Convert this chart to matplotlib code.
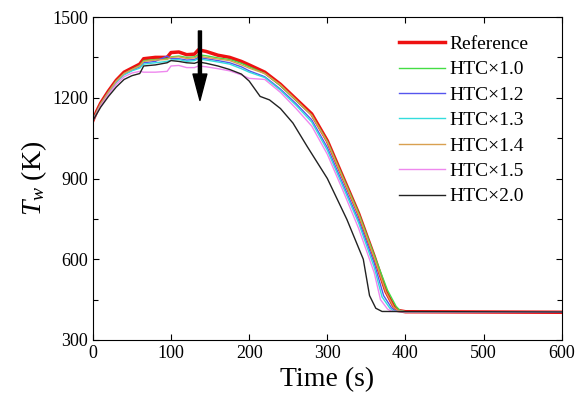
import numpy as np
from matplotlib import pyplot as plt

plt.rcParams['font.family'] = ['Liberation Serif', 'DejaVu Serif']
plt.rcParams['mathtext.fontset'] = 'custom'
plt.rcParams['mathtext.it'] = 'Liberation Serif:italic'
plt.rcParams['mathtext.rm'] = 'Liberation Serif'

# time points of the heating phase, shared by all runs
t_rise = [0, 5, 10, 20, 30, 40, 50, 60, 65, 80, 95, 100, 110, 120, 130, 135, 145, 160, 175, 190, 200]

# cooling phase time points
t_fall_ref = [220, 240, 260, 280, 300, 320, 340, 360, 375, 385, 390, 400, 600]
t_fall_10 = [220, 240, 260, 280, 300, 320, 340, 360, 377, 388, 393, 400, 600]
t_fall_12 = [220, 240, 260, 280, 300, 320, 340, 360, 372, 382, 387, 400, 600]
t_fall_13 = [220, 240, 260, 280, 300, 320, 340, 360, 370, 380, 385, 400, 600]
t_fall_14 = [220, 240, 260, 280, 300, 320, 340, 360, 375, 385, 390, 400, 600]
t_fall_15 = [220, 240, 260, 280, 300, 320, 340, 360, 368, 377, 382, 400, 600]
t_fall_20 = [214, 226, 240, 256, 274, 300, 325, 346, 354, 362, 370, 600]

T_ref = [1115, 1150, 1180, 1225, 1265, 1295, 1310, 1325, 1345, 1350, 1350, 1368, 1370, 1360, 1362, 1378, 1372, 1358, 1350, 1335, 1322,
         1295, 1250, 1195, 1140, 1040, 905, 770, 610, 480, 425, 410, 405, 403]
T_10 = [1115, 1148, 1178, 1222, 1262, 1290, 1305, 1320, 1338, 1342, 1345, 1352, 1355, 1350, 1352, 1360, 1356, 1348, 1342, 1328, 1315,
        1290, 1245, 1190, 1135, 1038, 905, 772, 615, 485, 425, 410, 405, 403]
T_12 = [1115, 1146, 1176, 1220, 1260, 1288, 1302, 1315, 1330, 1335, 1355, 1345, 1345, 1340, 1342, 1350, 1345, 1338, 1330, 1315, 1300,
        1278, 1232, 1178, 1118, 1015, 880, 745, 585, 465, 420, 408, 405, 403]
T_13 = [1115, 1145, 1175, 1218, 1258, 1285, 1300, 1310, 1325, 1330, 1335, 1340, 1342, 1335, 1338, 1345, 1340, 1333, 1325, 1308, 1295,
        1275, 1228, 1172, 1110, 1005, 870, 735, 570, 460, 418, 407, 405, 403]
T_14 = [1115, 1147, 1177, 1221, 1262, 1290, 1305, 1318, 1335, 1340, 1342, 1350, 1352, 1346, 1348, 1355, 1350, 1344, 1338, 1322, 1310,
        1290, 1248, 1192, 1135, 1035, 900, 765, 605, 478, 422, 410, 405, 403]
T_15 = [1115, 1142, 1170, 1212, 1250, 1278, 1292, 1298, 1295, 1295, 1298, 1318, 1320, 1312, 1312, 1318, 1315, 1308, 1300, 1285, 1272,
        1268, 1220, 1160, 1095, 990, 855, 715, 550, 450, 415, 407, 405, 403]
T_20 = [1115, 1140, 1165, 1205, 1240, 1268, 1282, 1290, 1318, 1322, 1330, 1338, 1335, 1330, 1328, 1333, 1328, 1318, 1305, 1288, 1262,
        1205, 1192, 1160, 1106, 1020, 900, 748, 600, 465, 418, 406, 404]

labels = ['Reference', 'HTC×1.0', 'HTC×1.2', 'HTC×1.3', 'HTC×1.4', 'HTC×1.5', 'HTC×2.0']

fig, ax = plt.subplots(figsize=(5.84, 4.0), dpi=100)
fig.subplots_adjust(left=0.159, right=0.962, top=0.9575, bottom=0.15)

ax.plot(t_rise + t_fall_ref, T_ref, color='#ee1111', lw=2.5, label=labels[0], zorder=1)
ax.plot(t_rise + t_fall_10, T_10, color='#44dd44', lw=1.0, label=labels[1])
ax.plot(t_rise + t_fall_12, T_12, color='#5555ee', lw=1.0, label=labels[2])
ax.plot(t_rise + t_fall_13, T_13, color='#33dddd', lw=1.0, label=labels[3])
ax.plot(t_rise + t_fall_14, T_14, color='#d9a050', lw=1.0, label=labels[4])
ax.plot(t_rise + t_fall_15, T_15, color='#ee88ee', lw=1.0, label=labels[5])
ax.plot(t_rise + t_fall_20, T_20, color='#222222', lw=1.0, label=labels[6])

ax.annotate('', xy=(137, 1190), xytext=(137, 1448),
            arrowprops=dict(width=2.2, headwidth=10, headlength=19, color='k'))

ax.set_xlim(0, 600)
ax.set_ylim(300, 1500)
ax.set_xticks(np.arange(0, 601, 100))
ax.set_yticks(np.arange(300, 1501, 300))
ax.set_yticks(np.arange(450, 1500, 300), minor=True)
ax.tick_params(direction='in', top=True, right=True, labelsize=13, length=4, width=0.8)
ax.tick_params(which='minor', direction='in', right=True, length=3.5, width=0.8)
for s in ax.spines.values():
    s.set_linewidth(0.8)

ax.set_xlabel('Time (s)', fontsize=20, labelpad=4)
ax.set_ylabel('$T_w$ (K)', fontsize=20, labelpad=2)

ax.legend(loc='upper left', bbox_to_anchor=(0.652, 0.943), frameon=False, fontsize=14,
          borderaxespad=0, borderpad=0,
          handlelength=2.4, handletextpad=0.2, labelspacing=0.4)

fig.savefig('out.png', dpi=100)
